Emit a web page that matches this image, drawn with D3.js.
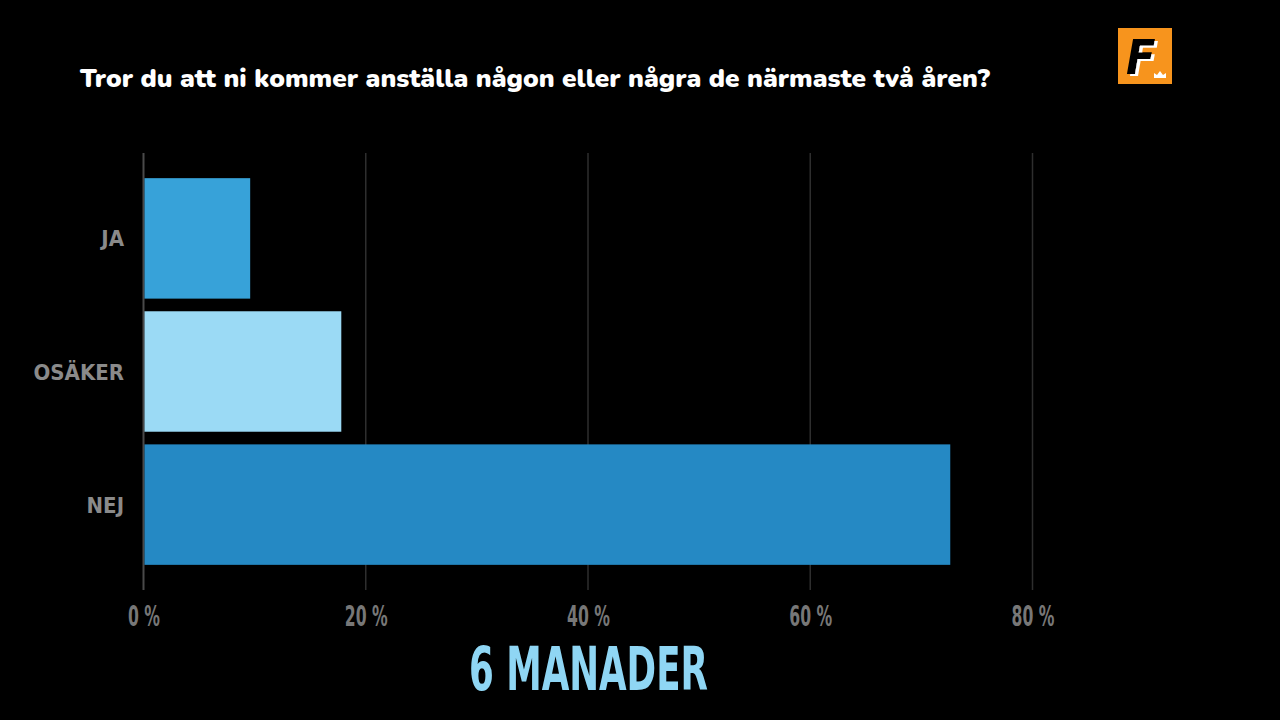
<!DOCTYPE html>
<html><head><meta charset="utf-8">
<script src="https://cdn.jsdelivr.net/npm/d3@7"></script>
<style>
html,body{margin:0;padding:0;background:#000;}
svg{display:block;}
</style></head>
<body>
<svg id="chart" width="1280" height="720"></svg>
<script>
const categories = ["JA", "OSÄKER", "NEJ"];
const values = [9.6, 17.8, 72.6];
const barColors = ["#37a2d9", "#9bdaf5", "#2589c4"];
const tickValues = [0, 20, 40, 60, 80];
const tickLabels = ["0 %", "20 %", "40 %", "60 %", "80 %"];
const title = "Tror du att ni kommer anställa någon eller några de närmaste två åren?";
const subtitle = "6 MANADER";

const svg = d3.select("#chart");
svg.append("rect").attr("width",1280).attr("height",720).attr("fill","#000");

const defs = svg.append("defs");
const f = defs.append("filter").attr("id","wshadow").attr("x","-20%").attr("y","-20%").attr("width","150%").attr("height","150%");
f.append("feFlood").attr("flood-color","#fff").attr("result","white");
f.append("feComposite").attr("in","white").attr("in2","SourceAlpha").attr("operator","in").attr("result","wshape");
f.append("feOffset").attr("in","wshape").attr("dx",3).attr("dy",2).attr("result","off");
const m = f.append("feMerge");
m.append("feMergeNode").attr("in","off");
m.append("feMergeNode").attr("in","SourceGraphic");

const x = d3.scaleLinear().domain([0,80]).range([143.5,1032.5]);
const y = d3.scaleBand().domain(categories).range([171.5,571.5]).paddingInner(0.095).paddingOuter(0.05);

// grid
svg.append("g").selectAll("line").data(tickValues.slice(1)).join("line")
  .attr("x1",d=>x(d)).attr("x2",d=>x(d)).attr("y1",153).attr("y2",590)
  .attr("stroke","#2e2e2e").attr("stroke-width",1.5);
svg.append("line").attr("x1",x(0)).attr("x2",x(0)).attr("y1",153).attr("y2",590)
  .attr("stroke","#4a4a4a").attr("stroke-width",2);

// bars
svg.append("g").selectAll("rect").data(values).join("rect")
  .attr("x",x(0)+1).attr("y",(d,i)=>y(categories[i]))
  .attr("width",d=>x(d)-x(0)-1).attr("height",y.bandwidth())
  .attr("fill",(d,i)=>barColors[i]);

// category labels
const condensed = "'DejaVu Sans Condensed','DejaVu Sans',sans-serif";
svg.append("g").selectAll("text").data(categories).join("text")
  .attr("x",124).attr("y",d=>y(d)+y.bandwidth()/2+8)
  .attr("text-anchor","end")
  .attr("fill","#8a8a8a")
  .style("font-family",condensed)
  .style("font-weight","bold")
  .style("font-size","22px")
  .text(d=>d);

// x tick labels
const xAxis = d3.axisBottom(x).tickValues(tickValues).tickFormat((d,i)=>tickLabels[i]).tickSize(0).tickPadding(0);
const gx = svg.append("g").attr("transform","translate(0,626)").call(xAxis);
gx.select(".domain").remove();
gx.selectAll("text")
  .attr("fill","#777")
  .attr("y",0).attr("dy",0)
  .style("font-family",condensed)
  .style("font-weight","bold")
  .style("font-size","29px")
  .each(function(){
    const w = this.getComputedTextLength();
    d3.select(this).attr("textLength", w*0.6).attr("lengthAdjust","spacingAndGlyphs");
  });

// title
svg.append("text").attr("x",80).attr("y",87)
  .attr("fill","#fff")
  .attr("textLength",910).attr("lengthAdjust","spacingAndGlyphs")
  .style("font-family","'Nunito','Lato','Open Sans',sans-serif")
  .style("font-weight","900")
  .style("font-size","25px")
  .text(title);

// subtitle
svg.append("text").attr("x",469).attr("y",690)
  .attr("fill","#8fd6f4")
  .attr("textLength",239).attr("lengthAdjust","spacingAndGlyphs")
  .style("font-family",condensed)
  .style("font-weight","bold")
  .style("font-size","60px")
  .text(subtitle);

// logo
const logo = svg.append("g").attr("transform","translate(1118,28)");
logo.append("rect").attr("width",54).attr("height",56).attr("fill","#f7941d");
logo.append("text").attr("x",8).attr("y",46).attr("fill","#000")
  .attr("filter","url(#wshadow)")
  .style("font-family",condensed).style("font-style","italic")
  .style("font-weight","bold").style("font-size","48px").text("F");
logo.append("path").attr("d","M36 50 L36 45 L39 47 L42 43 L45 47 L48 45 L48 50 Z").attr("fill","#fff");
</script>
</body></html>
